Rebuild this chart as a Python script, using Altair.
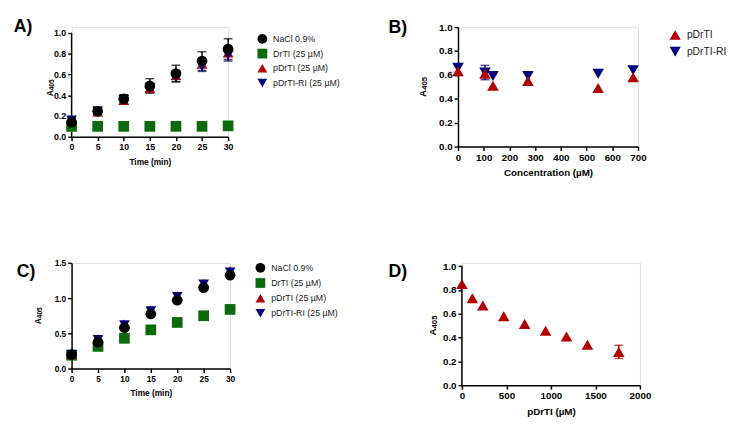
import altair as alt
import pandas as pd

FONT = "Liberation Sans"
RED = "#b00000"
NAVY = "#00007f"
GREEN = "#0b6a0b"
BLACK = "#000000"

# ---------------- data ----------------
time_min = [0, 5, 10, 15, 20, 25, 30]
series_ac = ["NaCl 0.9%", "DrTI (25 µM)", "pDrTI (25 µM)", "pDrTI-RI (25 µM)"]
colors_ac = [BLACK, GREEN, RED, NAVY]
shapes_ac = ["circle", "square", "triangle-up", "triangle-down"]

# Panel A
a_nacl = [0.14, 0.245, 0.365, 0.49, 0.61, 0.73, 0.845]
a_nacl_sd = [0.01, 0.03, 0.04, 0.07, 0.08, 0.09, 0.10]
a_drti = [0.10, 0.10, 0.10, 0.10, 0.10, 0.10, 0.105]
a_pdrti = [0.15, 0.24, 0.35, 0.47, 0.59, 0.70, 0.81]
a_pdrti_ri = [0.16, 0.25, 0.36, 0.47, 0.58, 0.68, 0.79]
a_pdrti_ri_sd = [0.02, 0.03, 0.04, 0.04, 0.05, 0.05, 0.06]

# Panel C
c_nacl = [0.20, 0.375, 0.58, 0.775, 0.97, 1.15, 1.325]
c_drti = [0.19, 0.315, 0.43, 0.55, 0.655, 0.75, 0.84]
c_pdrti = [0.20, 0.42, 0.63, 0.83, 1.03, 1.21, 1.39]
c_pdrti_ri = [0.20, 0.41, 0.62, 0.82, 1.02, 1.20, 1.37]

# Panel B
b_conc = [0, 105, 136, 272, 545, 681]
series_b = ["pDrTI", "pDrTI-RI"]
b_pdrti = [0.63, 0.61, 0.51, 0.55, 0.49, 0.58]
b_pdrti_ri = [0.66, 0.62, 0.59, 0.59, 0.61, 0.64]
b_pdrti_ri_sd = [0.0, 0.06, 0.0, 0.0, 0.0, 0.0]

# Panel D
d_conc = [0, 117.5, 235, 470, 705, 940, 1175, 1410, 1762.5]
d_pdrti = [0.85, 0.73, 0.67, 0.58, 0.515, 0.457, 0.41, 0.34, 0.28]
d_pdrti_sd = [0, 0, 0, 0, 0, 0, 0, 0, 0.055]

panel_labels = ["A)", "B)", "C)", "D)"]
ytitle_main = "A"
ytitle_sub = "405"


def long_df(x, names, cols, sds=None):
    rows = []
    for i, (n, vals) in enumerate(zip(names, cols)):
        sd = sds[i] if sds is not None else None
        for j, (xx, v) in enumerate(zip(x, vals)):
            s = sd[j] if sd is not None else 0.0
            rows.append({"x": xx, "y": v, "s": n, "lo": v - s, "hi": v + s, "sd": s})
    return pd.DataFrame(rows)


def panel(df, err_list, names, colors, shapes, label, lab_x, lab_y,
          xdom, xticks, xtitle, ydom, yticks, w, h,
          tick_fs, title_fs, ytitle_x, ytitle_y, legend=None, msize=120, yaxis_top=None):
    common = dict(labelFont=FONT, labelFontSize=tick_fs, labelFontWeight="bold",
                  labelColor="black", titleFont=FONT, titleFontSize=title_fs,
                  titleFontWeight="bold", titleColor="black", domainColor="black",
                  domainWidth=1.5, tickColor="black", tickWidth=1.5, tickSize=4,
                  labelPadding=2, grid=False, labelOverlap=False, labelBound=False,
                  labelFlush=False)
    xaxis = alt.Axis(values=xticks, title=xtitle, titlePadding=6, format="d", **common)
    yaxis = alt.Axis(values=yticks, title=None, format=".1f",
                     domain=(yaxis_top is None), **common)
    xs = alt.Scale(domain=xdom, nice=False, zero=False)
    ys = alt.Scale(domain=ydom, nice=False, zero=False)

    layers = []
    if yaxis_top is not None:
        layers.append(alt.Chart(pd.DataFrame({"x": [xdom[0]], "lo": [ydom[0]],
                                              "hi": [yaxis_top]})).mark_rule(
            color="black", strokeWidth=1.5).encode(
            x=alt.X("x:Q", scale=xs, axis=xaxis), y=alt.Y("lo:Q", scale=ys, axis=yaxis),
            y2="hi:Q"))
    for edf, ecol in err_list:
        eb = alt.Chart(edf)
        layers.append(eb.mark_rule(strokeWidth=1.5, color=ecol).encode(
            x=alt.X("x:Q", scale=xs, axis=xaxis), y=alt.Y("lo:Q", scale=ys, axis=yaxis),
            y2="hi:Q"))
        layers.append(eb.mark_tick(orient="horizontal", size=9, thickness=1.5, color=ecol).encode(
            x=alt.X("x:Q", scale=xs, axis=xaxis), y=alt.Y("lo:Q", scale=ys, axis=yaxis)))
        layers.append(eb.mark_tick(orient="horizontal", size=9, thickness=1.5, color=ecol).encode(
            x=alt.X("x:Q", scale=xs, axis=xaxis), y=alt.Y("hi:Q", scale=ys, axis=yaxis)))
    base = alt.Chart(df)
    if legend is None:
        pts = base.mark_point(filled=True, opacity=1, size=msize, shape=shapes[0],
                              color=colors[0]).encode(
            x=alt.X("x:Q", scale=xs, axis=xaxis), y=alt.Y("y:Q", scale=ys, axis=yaxis))
    else:
        pts = base.mark_point(filled=True, opacity=1, size=msize).encode(
            x=alt.X("x:Q", scale=xs, axis=xaxis), y=alt.Y("y:Q", scale=ys, axis=yaxis),
            color=alt.Color("s:N", scale=alt.Scale(domain=names, range=colors), legend=legend),
            shape=alt.Shape("s:N", scale=alt.Scale(domain=names, range=shapes), legend=legend),
            order=alt.Order("ord:Q"))
    layers.append(pts)
    lab = alt.Chart(pd.DataFrame({"t": [label]})).mark_text(
        font=FONT, fontSize=18, fontWeight="bold", align="left", baseline="middle",
        color="black").encode(text="t:N", x=alt.value(lab_x), y=alt.value(lab_y))
    layers.append(lab)
    # y-axis title "A" with subscript "405" (rotated, reading bottom to top)
    sub_fs = title_fs * 0.8
    main_w = 0.722 * title_fs
    sub_w = 3 * 0.556 * sub_fs
    tot = main_w + sub_w
    y_main = ytitle_y + tot / 2 - main_w / 2
    y_sub = ytitle_y - tot / 2 + sub_w / 2
    layers.append(alt.Chart(pd.DataFrame({"t": [ytitle_main]})).mark_text(
        font=FONT, fontSize=title_fs, fontWeight="bold", angle=270, align="center",
        baseline="middle", color="black").encode(
        text="t:N", x=alt.value(ytitle_x), y=alt.value(y_main)))
    layers.append(alt.Chart(pd.DataFrame({"t": [ytitle_sub]})).mark_text(
        font=FONT, fontSize=sub_fs, fontWeight="bold", angle=270, align="center",
        baseline="middle", color="black").encode(
        text="t:N", x=alt.value(ytitle_x + 2.2), y=alt.value(y_sub)))
    return alt.layer(*layers).properties(width=w, height=h)


def make_legend(x, y, fs, rowpad, ssize):
    return alt.Legend(orient="none", legendX=x, legendY=y, title=None, padding=0,
                      labelFont=FONT, labelFontSize=fs, labelFontWeight="normal",
                      labelColor="#222222", symbolSize=ssize, symbolStrokeWidth=0,
                      rowPadding=rowpad, labelOffset=6, symbolOpacity=1)


# ---- Panel A (plot area extended 6px above the 1.0 tick to sit lower than B)
dfA = long_df(time_min, series_ac, [a_nacl, a_drti, a_pdrti, a_pdrti_ri])
dfA["ord"] = dfA["s"].map({series_ac[1]: 0, series_ac[2]: 1, series_ac[3]: 2, series_ac[0]: 3})
errA_ri = long_df(time_min, [series_ac[3]], [a_pdrti_ri], [a_pdrti_ri_sd])
errA_na = long_df(time_min, [series_ac[0]], [a_nacl], [a_nacl_sd])
chartA = panel(dfA, [(errA_ri, NAVY), (errA_na, BLACK)], series_ac,
               colors_ac, shapes_ac, panel_labels[0], -59, 0,
               [0, 30], time_min, "Time (min)", [0, 112 / 106], [0, 0.2, 0.4, 0.6, 0.8, 1.0],
               160, 112, 9, 8.5, -22, 62,
               legend=make_legend(190, 7, 9, 5, 100), yaxis_top=1.0)

# ---- Panel B
dfB = long_df(b_conc, series_b, [b_pdrti, b_pdrti_ri])
dfB["ord"] = dfB["s"].map({series_b[1]: 0, series_b[0]: 1})
errB = long_df(b_conc, [series_b[1]], [b_pdrti_ri], [b_pdrti_ri_sd])
errB = errB[errB["sd"] > 0]
chartB = panel(dfB, [(errB, NAVY)], series_b, [RED, NAVY],
               ["triangle-up", "triangle-down"], panel_labels[1], -71, 0.5,
               [0, 700], [0, 100, 200, 300, 400, 500, 600, 700], "Concentration (µM)",
               [0, 1], [0, 0.2, 0.4, 0.6, 0.8, 1.0], 184, 122, 10, 10, -36, 61,
               legend=make_legend(216, 2, 10.5, 5, 130), msize=140)

# ---- Panel C
dfC = long_df(time_min, series_ac, [c_nacl, c_drti, c_pdrti, c_pdrti_ri])
dfC["ord"] = dfC["s"].map({series_ac[1]: 0, series_ac[2]: 1, series_ac[3]: 2, series_ac[0]: 3})
chartC = panel(dfC, [], series_ac, colors_ac, shapes_ac, panel_labels[2], -56, 9,
               [0, 30], time_min, "Time (min)", [0, 1.5], [0, 0.5, 1.0, 1.5],
               162, 108, 8.5, 8.5, -34, 54,
               legend=make_legend(188, 0, 9, 5.5, 100))

# ---- Panel D (plot area extended 3px above the 1.0 tick)
dfD = long_df(d_conc, ["pDrTI"], [d_pdrti], [d_pdrti_sd])
errD = dfD[dfD["sd"] > 0]
chartD = panel(dfD, [(errD, RED)], ["pDrTI"], [RED], ["triangle-up"], panel_labels[3],
               -75, 9.5, [0, 2000], [0, 500, 1000, 1500, 2000], "pDrTI (µM)",
               [0, 125 / 121.7], [0, 0.2, 0.4, 0.6, 0.8, 1.0], 182, 125, 10, 10, -30, 64,
               legend=None, msize=140, yaxis_top=1.0)

top = alt.hconcat(chartA, chartB, spacing=47).resolve_scale(color="independent", shape="independent")
bottom = alt.hconcat(chartC, chartD, spacing=49).resolve_scale(color="independent", shape="independent")
chart = alt.vconcat(top, bottom, spacing=81).resolve_scale(
    color="independent", shape="independent").properties(
    padding={"left": 5, "top": 5, "right": 0, "bottom": 0}).configure_view(
    stroke=None).configure_axis(labelOverlap=False).configure(background="white")

chart.save("out.html", embed_options={"renderer": "svg", "actions": False})
